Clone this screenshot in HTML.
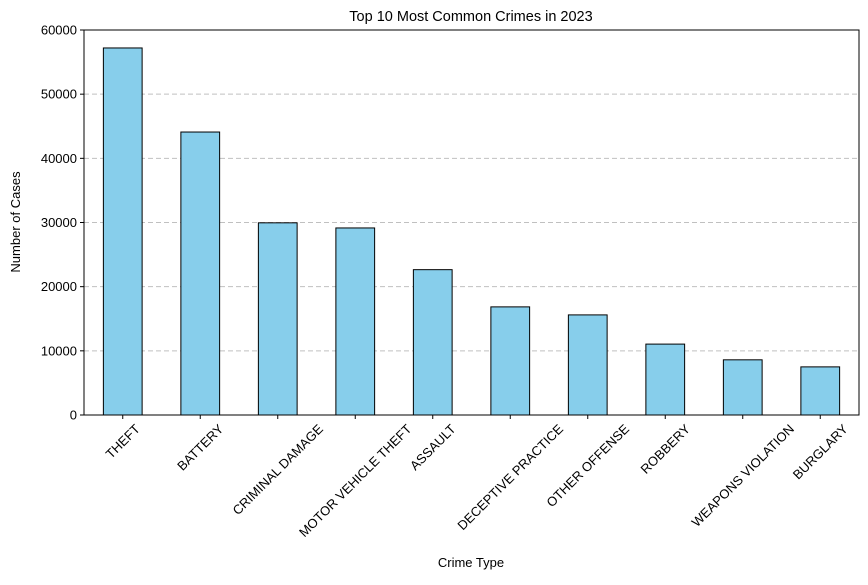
<!DOCTYPE html>
<html><head><meta charset="utf-8"><style>
body{margin:0;background:#fff}
svg text{font-family:"Liberation Sans","DejaVu Sans",sans-serif;fill:#000}
</style></head><body>
<svg id="chart" width="868" height="580" xmlns="http://www.w3.org/2000/svg">
<text x="471" y="21" font-size="14.5" text-anchor="middle">Top 10 Most Common Crimes in 2023</text>
<g id="grid"></g><g id="bars"></g><g id="axes"></g>
<text x="471" y="567" font-size="13" text-anchor="middle">Crime Type</text>
<text transform="translate(20,222) rotate(-90)" font-size="13" text-anchor="middle">Number of Cases</text>
</svg>
<script>
const categories=["THEFT","BATTERY","CRIMINAL DAMAGE","MOTOR VEHICLE THEFT","ASSAULT","DECEPTIVE PRACTICE","OTHER OFFENSE","ROBBERY","WEAPONS VIOLATION","BURGLARY"];
const values=[57200,44100,29950,29150,22650,16850,15600,11050,8600,7500];
const yTicks=[0,10000,20000,30000,40000,50000,60000];
const NS="http://www.w3.org/2000/svg";
const L=84,R=859,T=30,B=415,yMax=60000;
const y=v=>B-(v/yMax)*(B-T);
const step=(R-L)/categories.length;
const x=i=>L+step*(i+0.5);
function mk(tag,attrs,parent){const e=document.createElementNS(NS,tag);for(const k in attrs)e.setAttribute(k,attrs[k]);parent.appendChild(e);return e;}
const grid=document.getElementById('grid'),bars=document.getElementById('bars'),axes=document.getElementById('axes');
yTicks.forEach(t=>{
 const g=mk('line',{x1:L,x2:R,y1:y(t),y2:y(t),stroke:'#c0c0c0','stroke-dasharray':'5,3','stroke-width':1},grid);
 
 
 const tk=mk('line',{x1:L-4,x2:L,y1:y(t),y2:y(t),stroke:'#000'},axes);
 
 
 const tx=mk('text',{x:L-7,y:y(t)+4.5,'font-size':13,'text-anchor':'end'},axes);
 tx.textContent=t;
 
 
});
categories.forEach((c,i)=>{
 const w=step*0.5;
 const r=mk('rect',{x:x(i)-w/2,y:y(values[i]),width:w,height:B-y(values[i]),fill:'#87ceeb',stroke:'#000','stroke-width':1},bars);
 
 
 const tk=mk('line',{x1:x(i),x2:x(i),y1:B,y2:B+4,stroke:'#000'},axes);
 
 
 const tx=mk('text',{x:0,y:4.5,'font-size':13,'text-anchor':'middle'},axes);
 tx.textContent=c;
 
 
 const tw=tx.getComputedTextLength();
 const half=(tw+13)*0.7071/2;
 tx.setAttribute('transform',`translate(${x(i)},${B+7+half}) rotate(-45)`);
});
const fr=mk('rect',{x:L,y:T,width:R-L,height:B-T,fill:'none',stroke:'#000','stroke-width':1},axes);


</script>
</body></html>
